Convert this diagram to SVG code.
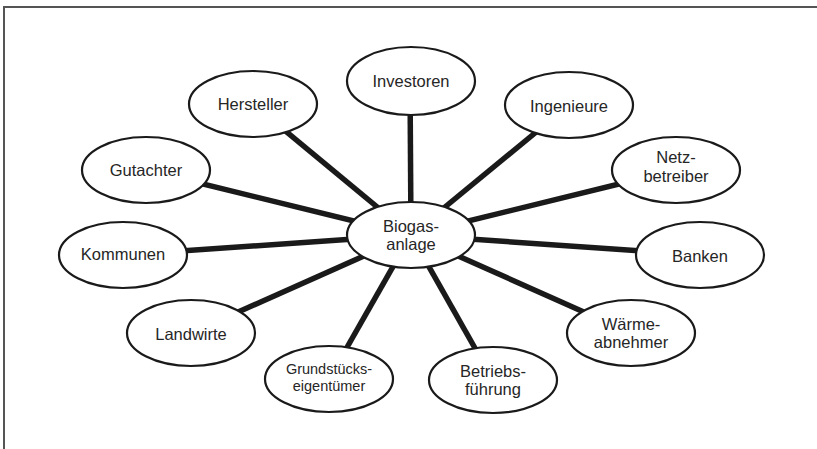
<svg xmlns="http://www.w3.org/2000/svg" width="817" height="449" viewBox="0 0 817 449">
<style>
.frame{fill:none;stroke:#555;stroke-width:2}
.conn line{stroke:#1a1a1a;stroke-width:5.5}
.node ellipse{fill:#fff;stroke:#1a1a1a;stroke-width:2.2}
.node text{font-family:"Liberation Sans",Arial,sans-serif;font-size:16.5px;fill:#262626;text-anchor:middle}
.node text.sm{font-size:14.5px}
</style>
<rect width="817" height="449" fill="#fff"/>
<path class="frame" d="M4,449 V7 H817"/>
<g id="connectors" class="conn">
<line x1="411" y1="235" x2="253" y2="104"/>
<line x1="411" y1="235" x2="146" y2="170"/>
<line x1="411" y1="235" x2="410" y2="81"/>
<line x1="411" y1="235" x2="569" y2="105"/>
<line x1="411" y1="235" x2="676" y2="170"/>
<line x1="411" y1="235" x2="123" y2="255"/>
<line x1="411" y1="235" x2="700" y2="255"/>
<line x1="411" y1="235" x2="191" y2="333"/>
<line x1="411" y1="235" x2="631" y2="333"/>
<line x1="411" y1="235" x2="329" y2="379"/>
<line x1="411" y1="235" x2="493" y2="380"/>
</g>
<g id="biogas" class="node"><ellipse cx="411" cy="235" rx="64" ry="33"/><text x="411" y="232">Biogas-</text><text x="411" y="250">anlage</text></g>
<g id="hersteller" class="node"><ellipse cx="253" cy="104" rx="64" ry="33"/><text x="253" y="110">Hersteller</text></g>
<g id="gutachter" class="node"><ellipse cx="146" cy="170" rx="64" ry="33"/><text x="146" y="176">Gutachter</text></g>
<g id="investoren" class="node"><ellipse cx="411" cy="81" rx="64" ry="34"/><text x="411" y="87">Investoren</text></g>
<g id="ingenieure" class="node"><ellipse cx="569" cy="105" rx="64" ry="33"/><text x="569" y="112">Ingenieure</text></g>
<g id="netzbetreiber" class="node"><ellipse cx="676" cy="170" rx="64" ry="33"/><text x="676" y="163">Netz-</text><text x="676" y="182">betreiber</text></g>
<g id="kommunen" class="node"><ellipse cx="123" cy="255" rx="64" ry="33"/><text x="123" y="260">Kommunen</text></g>
<g id="banken" class="node"><ellipse cx="700" cy="255" rx="64" ry="33"/><text x="700" y="262">Banken</text></g>
<g id="landwirte" class="node"><ellipse cx="191" cy="333" rx="64" ry="33"/><text x="191" y="340">Landwirte</text></g>
<g id="waermeabnehmer" class="node"><ellipse cx="631" cy="333" rx="64" ry="33"/><text x="631" y="330">Wärme-</text><text x="631" y="348">abnehmer</text></g>
<g id="grundstueckseigentuemer" class="node"><ellipse cx="329" cy="379" rx="64" ry="33"/><text class="sm" x="329" y="374">Grundstücks-</text><text class="sm" x="329" y="391">eigentümer</text></g>
<g id="betriebsfuehrung" class="node"><ellipse cx="493" cy="380" rx="64" ry="33"/><text x="493" y="377">Betriebs-</text><text x="493" y="395">führung</text></g>
</svg>
